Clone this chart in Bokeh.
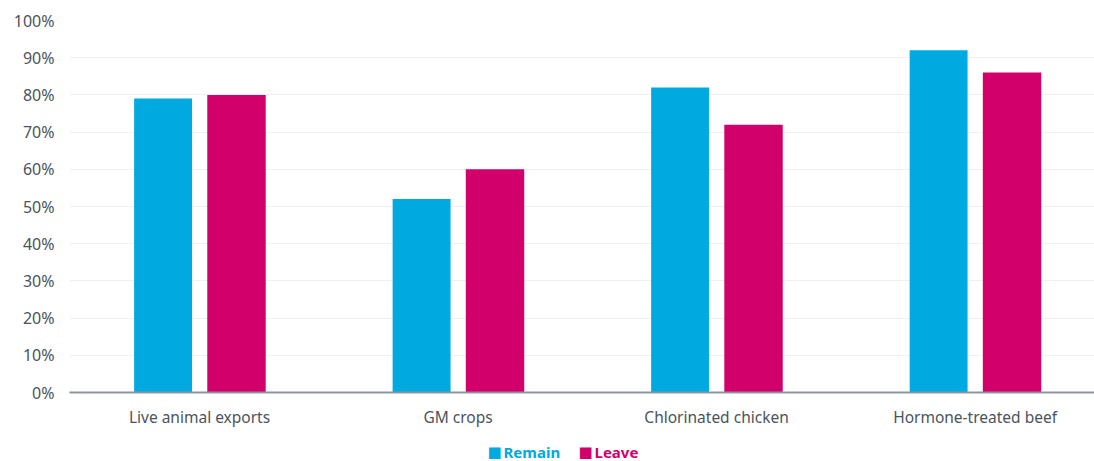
from bokeh.plotting import figure
from bokeh.layouts import column
from bokeh.models import Range1d, ColumnDataSource, PrintfTickFormatter, FixedTicker, Label
from bokeh.transform import dodge
from bokeh.embed import file_html
from bokeh.resources import INLINE

categories = ["Live animal exports", "GM crops", "Chlorinated chicken", "Hormone-treated beef"]
remain = [79, 52, 82, 92]
leave = [80, 60, 72, 86]
y_ticks = [0, 10, 20, 30, 40, 50, 60, 70, 80, 90, 100]
series_names = ["Remain", "Leave"]

BLUE = "#00a9e0"
PINK = "#d1006b"
FONT = "Noto Sans"
TXT = "#4a545c"

idx = list(range(len(categories)))
src = ColumnDataSource(dict(x=idx, remain=remain, leave=leave))

p = figure(width=1094, height=430, output_backend="svg", toolbar_location=None,
           x_range=Range1d(-0.503, 3.462), y_range=Range1d(0, 100),
           min_border_left=69, min_border_right=0, min_border_top=20, min_border_bottom=38)
p.outline_line_color = None

r1 = p.vbar(x=dodge("x", -0.141), top="remain", width=0.224, source=src, color=BLUE, line_color=None)
r2 = p.vbar(x=dodge("x", 0.143), top="leave", width=0.226, source=src, color=PINK, line_color=None)

p.xaxis.ticker = FixedTicker(ticks=idx)
p.xaxis.major_label_overrides = {i: c for i, c in enumerate(categories)}
p.xaxis.major_tick_line_color = None
p.xaxis.minor_tick_line_color = None
p.xaxis.axis_line_color = "#8c959c"
p.xaxis.axis_line_width = 2
p.xaxis.major_label_text_font = FONT
p.xaxis.major_label_text_font_size = "15.5px"
p.xaxis.major_label_text_color = TXT
p.xaxis.major_label_standoff = 7

p.yaxis.ticker = FixedTicker(ticks=y_ticks)
p.yaxis.formatter = PrintfTickFormatter(format="%d%%")
p.yaxis.axis_line_color = None
p.yaxis.major_tick_line_color = None
p.yaxis.minor_tick_line_color = None
p.yaxis.major_label_text_font = FONT
p.yaxis.major_label_text_font_size = "16px"
p.yaxis.major_label_text_color = TXT
p.yaxis.major_label_standoff = 9

p.xgrid.grid_line_color = None
p.ygrid.grid_line_color = "#f0f0f0"
p.ygrid.ticker = FixedTicker(ticks=y_ticks)

# legend strip below the chart (its frame is aligned with the chart's frame)
lg = figure(width=1094, height=31, output_backend="svg", toolbar_location=None,
            x_axis_location=None, y_axis_location=None,
            x_range=Range1d(0, 1), y_range=Range1d(0, 1),
            min_border_left=0, min_border_right=0, min_border_top=0, min_border_bottom=0)
lg.outline_line_color = None
lg.xgrid.grid_line_color = None
lg.ygrid.grid_line_color = None

for name, col, xpos in [(series_names[0], BLUE, 418), (series_names[1], PINK, 509)]:
    lg.add_layout(Label(x=xpos, y=10, x_units="screen", y_units="screen", text="■",
                        text_color=col, text_font="DejaVu Sans",
                        text_font_size="15px", text_baseline="middle"))
    lg.add_layout(Label(x=xpos + 16, y=10, x_units="screen", y_units="screen", text=name,
                        text_color=col, text_font=FONT, text_font_style="bold",
                        text_font_size="15px", text_baseline="middle"))

open("out.html", "w").write(file_html(column(p, lg, spacing=0), INLINE))
